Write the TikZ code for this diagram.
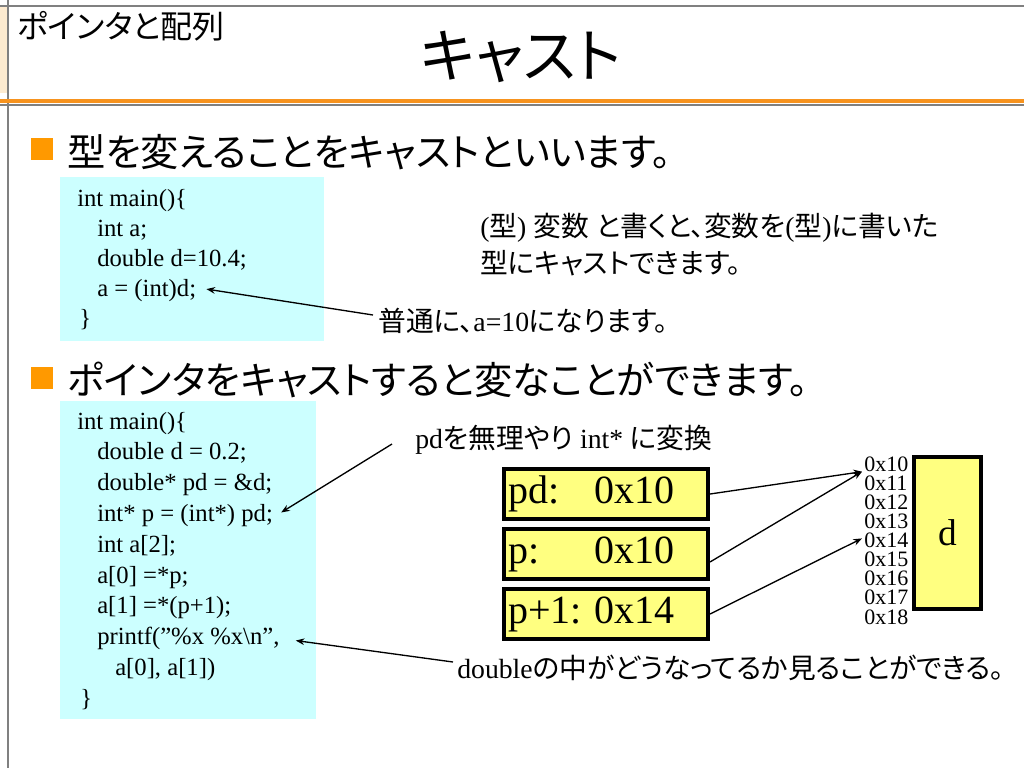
\documentclass[tikz,border=0pt]{standalone}
\usepackage{fontspec}
\setmainfont{Liberation Serif}
\newfontfamily\jp[RawFeature=+palt]{Noto Sans CJK JP}
\usetikzlibrary{calc,arrows.meta}
\newcommand\J[1]{{\jp #1}}
\definecolor{codebg}{HTML}{CCFFFF}
\definecolor{boxyellow}{HTML}{FFFF80}
\definecolor{bulletorange}{HTML}{FF9900}
\definecolor{lineorange}{HTML}{F7931E}
\definecolor{stripe}{HTML}{FDEBD0}
\definecolor{framegray}{HTML}{808080}
\begin{document}
\begin{tikzpicture}[x=0.75pt,y=-0.75pt,
  code/.style={anchor=base west,inner sep=0pt,font=\fontsize{18.5pt}{20pt}\selectfont},
  note/.style={anchor=west,inner sep=0pt,font=\fontsize{20.8pt}{24pt}\selectfont},
  bullettext/.style={anchor=west,inner sep=0pt,font=\jp\fontsize{28.7pt}{32pt}\selectfont},
  bulletsq/.style={fill=bulletorange,draw=none,minimum size=16.5pt,inner sep=0pt},
  codebox/.style={fill=codebg,draw=none},
  membox/.style={draw=black,line width=3pt,fill=boxyellow,minimum height=37pt,text width=147pt,align=left,inner xsep=3pt,inner ysep=0pt,font=\fontsize{30pt}{34pt}\selectfont},
  memd/.style={draw=black,line width=3pt,fill=boxyellow,minimum width=50pt,minimum height=114pt,inner sep=0pt,font=\fontsize{28pt}{32pt}\selectfont},
  addr/.style={anchor=west,inner sep=0pt,font=\fontsize{16.5pt}{18pt}\selectfont},
  arr/.style={-{Stealth[length=6.5pt,width=5pt]},line width=1pt},
]
\useasboundingbox (0,0) rectangle (1024,768);
\fill[white] (0,0) rectangle (1024,768);
% frame
\fill[stripe] (0,7) rectangle (7,93);
\draw[framegray,line width=1.5pt] (0,5.5) -- (1024,5.5);
\draw[framegray,line width=1.5pt] (8,0) -- (8,768);
\draw[lineorange,line width=2.5pt] (0,101) -- (1024,101);
\draw[framegray,line width=1pt] (0,105) -- (1024,105);
% header and title
\node[anchor=west,inner sep=0pt,font=\jp\fontsize{24pt}{28pt}\selectfont] (hdr) at (17,26) {ポインタと配列};
\node[inner sep=0pt,font=\jp\fontsize{44pt}{50pt}\selectfont] (title) at (521,57) {キャスト};
% bullets
\node[bulletsq] (b1) at (42,149) {};
\node[bullettext] (t1) at (67,152) {型を変えることをキャストといいます。};
\node[bulletsq] (b2) at (42,378) {};
\node[bullettext] (t2) at (67,380) {ポインタをキャストすると変なことができます。};
% code box 1
\path[codebox] (60,177) rectangle (324,341);
\node[code] (c1a) at (77,206) {int main()\{};
\node[code] (c1b) at (97,236) {int a;};
\node[code] (c1c) at (97,266) {double d=10.4;};
\node[code] (c1d) at (97,296) {a = (int)d;};
\node[code] (c1e) at (79,326) {\}};
% code box 2
\path[codebox] (60,401) rectangle (316,719);
\node[code] (c2a) at (77,429) {int main()\{};
\node[code] (c2b) at (97,459.8) {double d = 0.2;};
\node[code] (c2c) at (97,490.6) {double* pd = \&d;};
\node[code] (c2d) at (97,521.4) {int* p = (int*) pd;};
\node[code] (c2e) at (97,552.2) {int a[2];};
\node[code] (c2f) at (97,583) {a[0] =*p;};
\node[code] (c2g) at (97,613.8) {a[1] =*(p+1);};
\node[code] (c2h) at (97,644.6) {printf(”\%x \%x\textbackslash n”,};
\node[code] (c2i) at (115,675.4) {a[0], a[1])};
\node[code] (c2j) at (80,706.2) {\}};
% notes
\node[note] (n1a) at (480,228) {(\J{型}) \J{変数} \J{と書くと、変数を}(\J{型})\J{に書いた}};
\node[note] (n1b) at (480,263) {\J{型にキャストできます。}};
\node[note] (n2) at (378,321) {\J{普通に、}a=10\J{になります。}};
\node[note] (n3) at (415,440) {pd\J{を無理やり} int* \J{に変換}};
\node[note] (n4) at (457,668) {double\J{の中がどうなってるか見ることができる。}};
% memory boxes
\node[membox] (pdbox) at (606,494) {\makebox[65pt][l]{pd:}0x10};
\node[membox] (pbox) at (606,554) {\makebox[65pt][l]{p:}0x10};
\node[membox] (p1box) at (606,614) {\makebox[65pt][l]{p+1:}0x14};
\node[memd] (dbox) at (947.5,533) {d};
% addresses
\node[addr] (a10) at (864,464) {0x10};
\node[addr] (a11) at (864,483.1) {0x11};
\node[addr] (a12) at (864,502.2) {0x12};
\node[addr] (a13) at (864,521.3) {0x13};
\node[addr] (a14) at (864,540.4) {0x14};
\node[addr] (a15) at (864,559.5) {0x15};
\node[addr] (a16) at (864,578.6) {0x16};
\node[addr] (a17) at (864,597.7) {0x17};
\node[addr] (a18) at (864,616.8) {0x18};
% arrows
\draw[arr] ($(n2.west)+(-5,-6)$) -- ($(c1d.east)+(10,-1)$);
\draw[arr] ($(n3.west)+(-23,4)$) -- ($(c2d.east)+(8,-3)$);
\draw[arr] ($(n4.west)+(-4,-6)$) -- ($(c2h.east)+(16,2)$);
\draw[arr] (pdbox.east) -- ($(a10.south west)+(-2,0)$);
\draw[arr] ($(pbox.east)+(0,8)$) -- ($(a10.south west)+(-2,0)$);
\draw[arr] (p1box.east) -- ($(a14.west)+(-2,-2)$);
\end{tikzpicture}
\end{document}
